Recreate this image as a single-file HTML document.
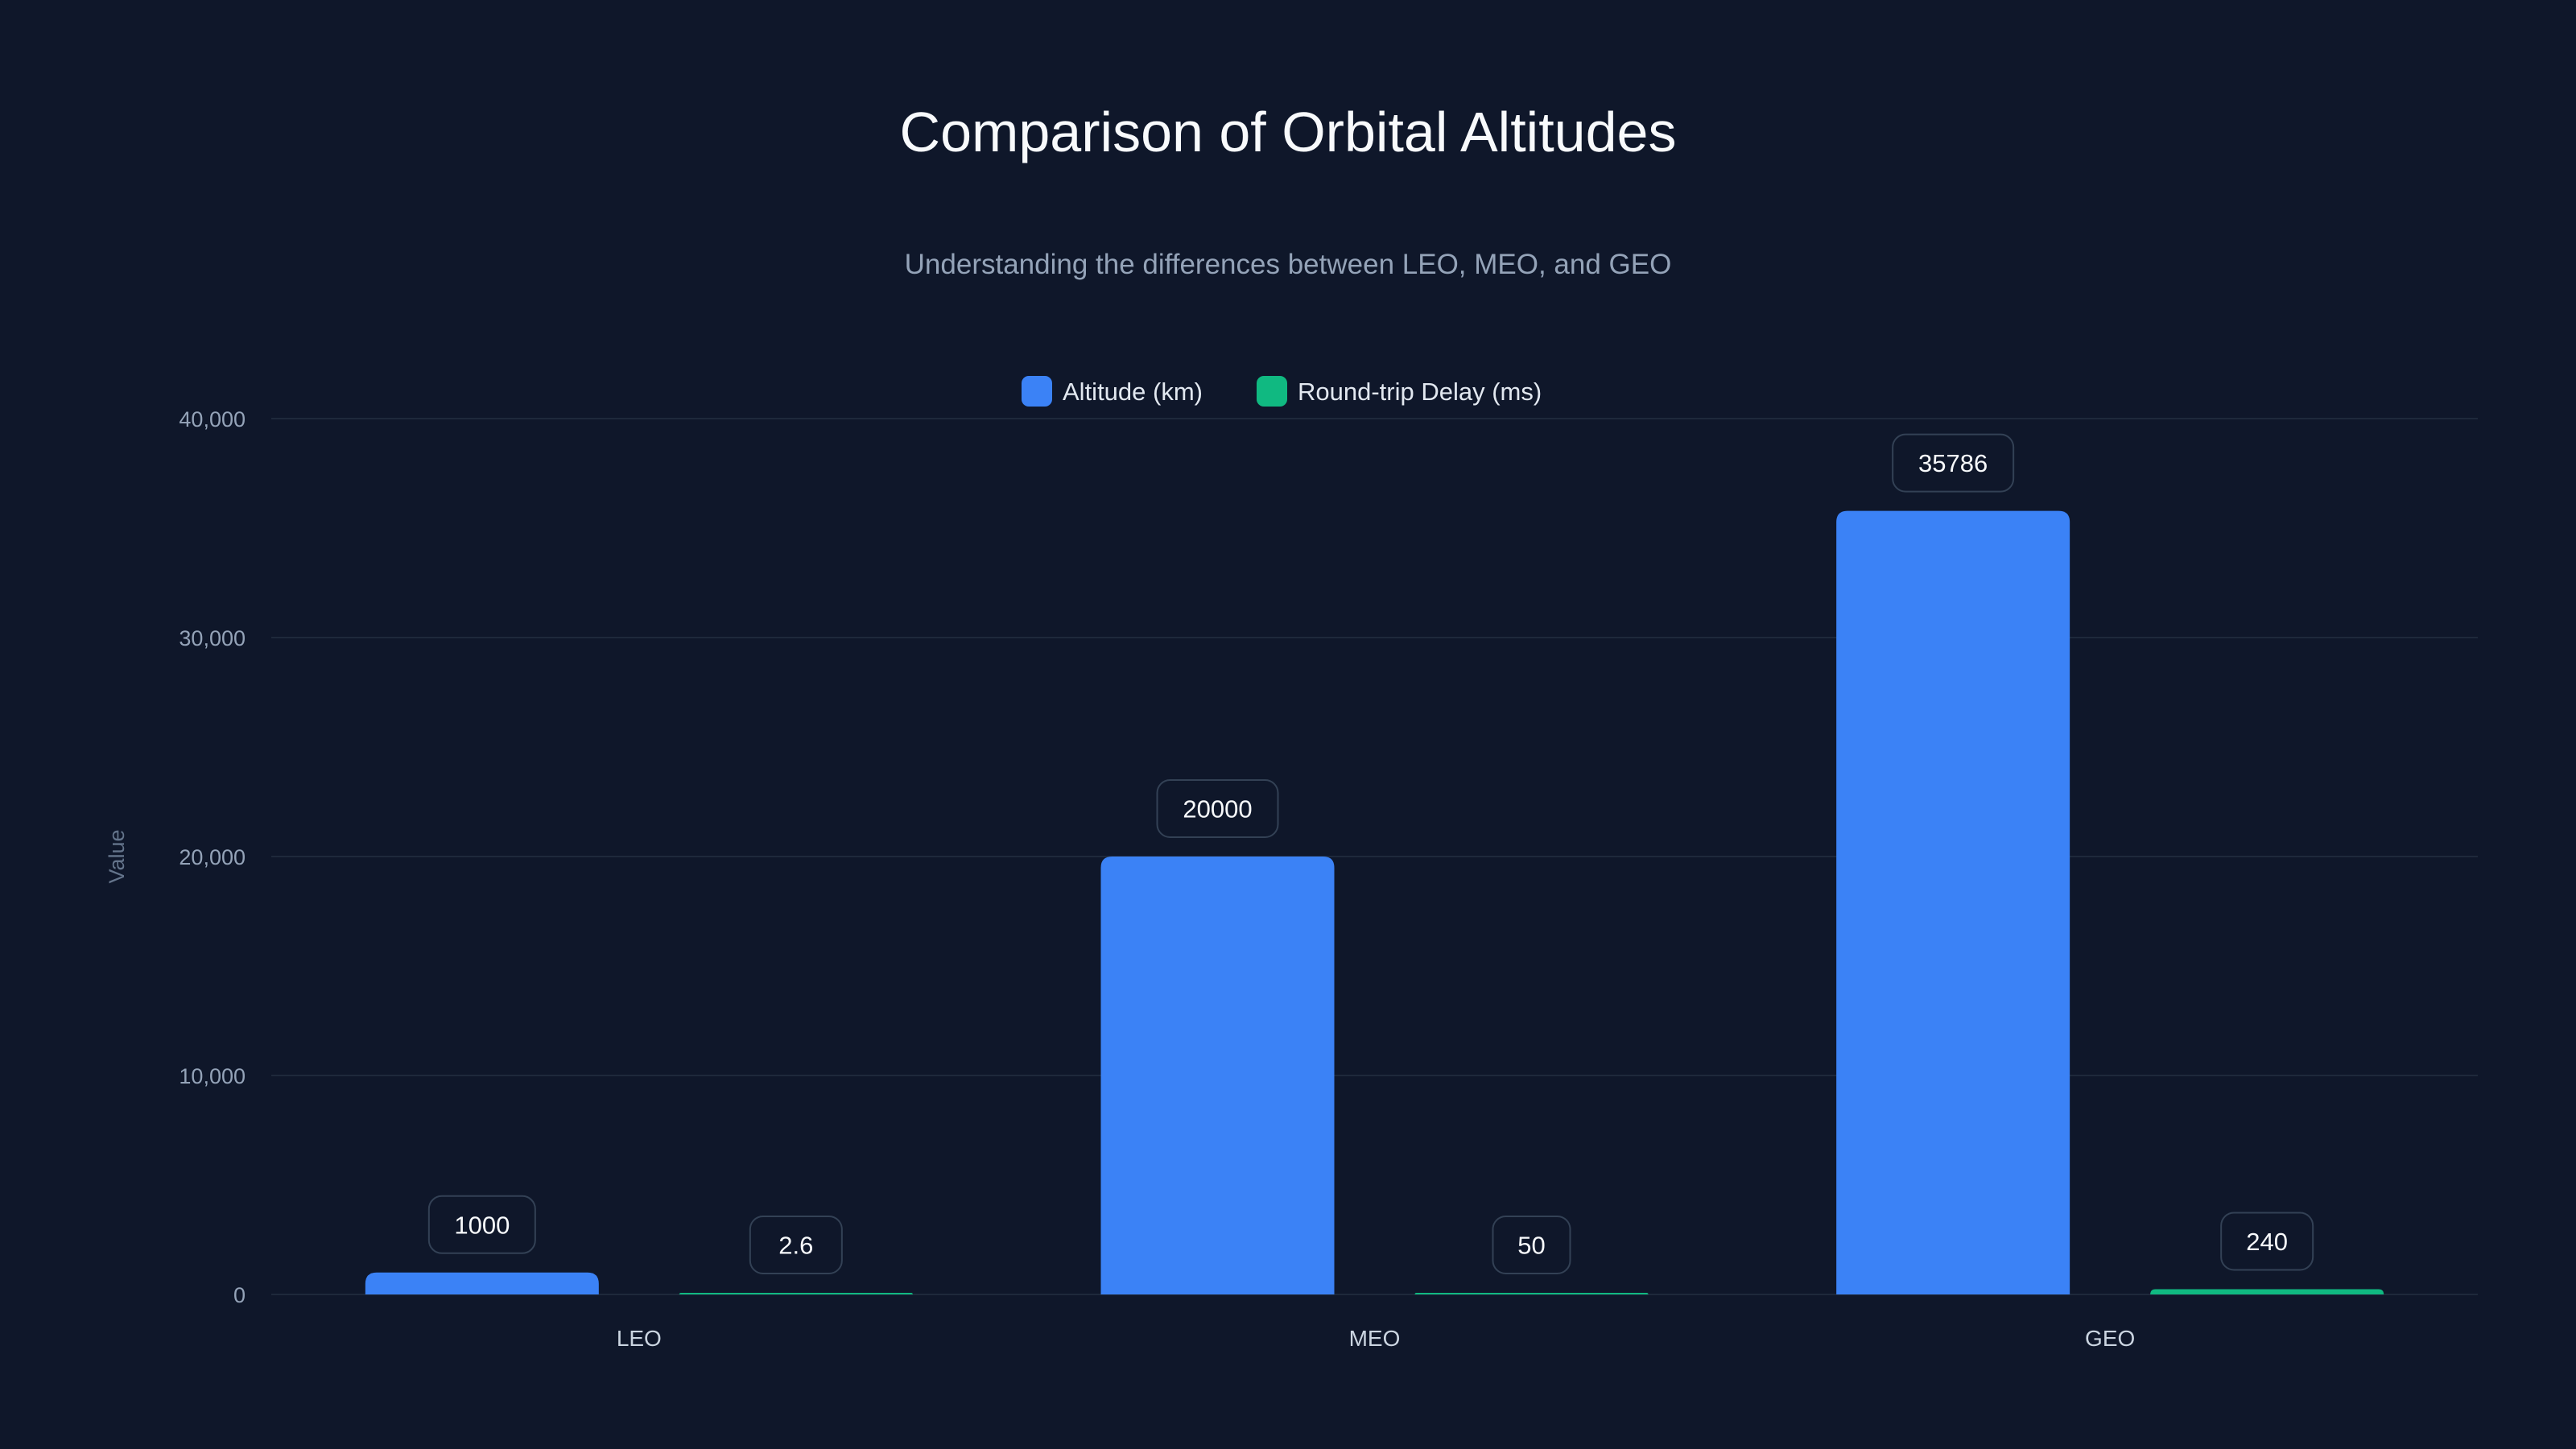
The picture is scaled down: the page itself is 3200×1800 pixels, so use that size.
<!DOCTYPE html>
<html><head><meta charset="utf-8"><style>
html,body{margin:0;padding:0;background:#0f172a;}
svg{display:block;font-family:"Liberation Sans",sans-serif;}
</style></head><body>
<svg id="chart" width="3200" height="1800" viewBox="0 0 3200 1800" xmlns="http://www.w3.org/2000/svg">
<rect width="3200" height="1800" fill="#0f172a"/>
<text x="1600" y="188" text-anchor="middle" font-size="70" fill="#f8fafc">Comparison of Orbital Altitudes</text>
<text x="1600" y="340" text-anchor="middle" font-size="35" fill="#94a3b8">Understanding the differences between LEO, MEO, and GEO</text>
<g>
<g>
<rect x="1269" y="467" width="38" height="38" rx="9" fill="#3b82f6"/>
<text x="1320" y="497" font-size="31" fill="#e2e8f0">Altitude (km)</text>
</g>
<g>
<rect x="1561" y="467" width="38" height="38" rx="9" fill="#10b981"/>
<text x="1612" y="497" font-size="31" fill="#e2e8f0">Round-trip Delay (ms)</text>
</g>
</g>
<g id="grid"></g>
<g id="yticks"></g>
<g id="bars"></g>
<g id="labels"></g>
<g id="xticks"></g>
<text transform="translate(154,1064) rotate(-90)" text-anchor="middle" font-size="27" fill="#64748b">Value</text>
</svg>
<script>
const categories = ["LEO", "MEO", "GEO"];
const altitudeKm = [1000, 20000, 35786];
const delayMs = [2.6, 50, 240];
const yTicks = [0, 10000, 20000, 30000, 40000];
const yTickLabels = ["0", "10,000", "20,000", "30,000", "40,000"];

const NS = "http://www.w3.org/2000/svg";
const L = 337, R = 3078, T = 520, B = 1608, yMax = 40000;
const band = (R - L) / categories.length;
const y = v => B - (v / yMax) * (B - T);
const xc = i => L + band * (i + 0.5);
const barW = 290, off = 195;

function mk(tag, attrs, parent) {
  const e = document.createElementNS(NS, tag);
  for (const k in attrs) e.setAttribute(k, attrs[k]);
  parent.appendChild(e);
  return e;
}
const grid = document.getElementById('grid');
const yt = document.getElementById('yticks');
yTicks.forEach((t, i) => {
  const ln = mk('line', {x1: L, x2: R, y1: y(t), y2: y(t), stroke: '#1e293b', 'stroke-width': 2}, grid);
  
  
  const tx = mk('text', {x: 305, y: y(t) + 10, 'text-anchor': 'end', 'font-size': 27, fill: '#94a3b8'}, yt);
  tx.textContent = yTickLabels[i];
  
  
});
const bars = document.getElementById('bars');
const labels = document.getElementById('labels');
const xt = document.getElementById('xticks');
function barPath(x, top, w, r) {
  const h = B - top;
  r = Math.min(r, h, w / 2);
  return `M${x},${B} L${x},${top + r} Q${x},${top} ${x + r},${top} L${x + w - r},${top} Q${x + w},${top} ${x + w},${top + r} L${x + w},${B} Z`;
}
function addBar(cx, v, color, name) {
  let top = y(v);
  if (B - top < 2) top = B - 2;
  const p = mk('path', {d: barPath(cx - barW / 2, top, barW, 14), fill: color}, bars);
  
  
  const txt = String(v);
  const w = Math.max(94, txt.length * 18 + 60);
  const g = mk('g', {}, labels);
  
  
  const bh = 71, by = top - 24 - bh;
  mk('rect', {x: cx - w / 2, y: by, width: w, height: bh, rx: 16, fill: '#0f172a', stroke: '#334155', 'stroke-width': 2}, g);
  const t = mk('text', {x: cx, y: by + bh / 2 + 11, 'text-anchor': 'middle', 'font-size': 31, fill: '#f8fafc'}, g);
  t.textContent = txt;
}
categories.forEach((c, i) => {
  addBar(xc(i) - off, altitudeKm[i], '#3b82f6', 'bar-altitude-' + c.toLowerCase());
  addBar(xc(i) + off, delayMs[i], '#10b981', 'bar-delay-' + c.toLowerCase());
  const t = mk('text', {x: xc(i), y: 1672, 'text-anchor': 'middle', 'font-size': 28, fill: '#cbd5e1'}, xt);
  t.textContent = c;
  
  
});
</script>
</body></html>
